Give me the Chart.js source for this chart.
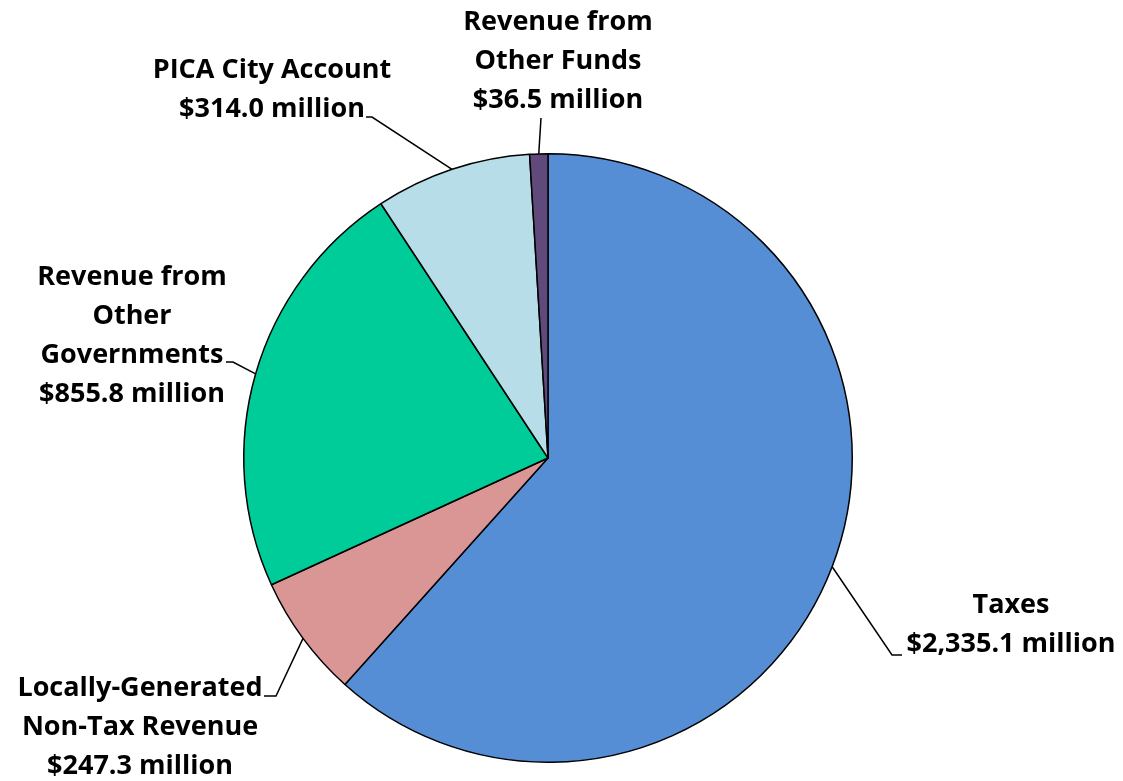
<!DOCTYPE html>
<html><head><meta charset="utf-8">
<script src="https://cdn.jsdelivr.net/npm/chart.js@4/dist/chart.umd.min.js"></script>
<style>html,body{margin:0;padding:0;background:#fff}#wrap{width:1123px;height:781px}</style>
</head><body><div id="wrap"><canvas id="c" width="1123" height="781"></canvas></div>
<script>
const categories = ["Taxes", "Locally-Generated Non-Tax Revenue", "Revenue from Other Governments", "PICA City Account", "Revenue from Other Funds"];
const values = [2335.1, 247.3, 855.8, 314.0, 36.5];
const labelLines = [
  ["Taxes", "$2,335.1 million"],
  ["Locally-Generated", "Non-Tax Revenue", "$247.3 million"],
  ["Revenue from", "Other", "Governments", "$855.8 million"],
  ["PICA City Account", "$314.0 million"],
  ["Revenue from", "Other Funds", "$36.5 million"]
];
const colors = ["#558ED5", "#D99694", "#00CC99", "#B7DDE8", "#604A7B"];

const labelLayout = [
  {x: 1011, y: 605, elbow: [892, 655], end: [902, 655]},
  {x: 140, y: 688, elbow: [276, 696], end: [264, 696]},
  {x: 132, y: 277, elbow: [233, 362], end: [226, 362]},
  {x: 272, y: 70, elbow: [372, 117], end: [366, 117]},
  {x: 558, y: 22, elbow: [541, 118], end: [541, 118]}
];
const lineH = 39;

const labelPlugin = {
  id: 'labels',
  afterDraw(chart) {
    const ctx = chart.ctx;
    const meta = chart.getDatasetMeta(0);
    ctx.save();
    ctx.font = 'bold 27px "Open Sans", sans-serif';
    ctx.fillStyle = '#000';
    ctx.textAlign = 'center';
    ctx.textBaseline = 'middle';
    meta.data.forEach((arc, i) => {
      const L = labelLayout[i];
      const mid = (arc.startAngle + arc.endAngle) / 2;
      const px = arc.x + Math.cos(mid) * arc.outerRadius;
      const py = arc.y + Math.sin(mid) * arc.outerRadius;
      ctx.strokeStyle = '#000';
      ctx.lineWidth = 1.5;
      ctx.beginPath();
      ctx.moveTo(px, py);
      ctx.lineTo(L.elbow[0], L.elbow[1]);
      ctx.lineTo(L.end[0], L.end[1]);
      ctx.stroke();
      labelLines[i].forEach((t, j) => {
        ctx.fillText(t, L.x, L.y + j * lineH);
      });
    });
    ctx.restore();
  }
};

new Chart(document.getElementById('c'), {
  type: 'pie',
  data: {
    labels: categories,
    datasets: [{
      data: values,
      backgroundColor: colors,
      borderColor: '#000',
      borderWidth: 1.5
    }]
  },
  options: {
    responsive: false,
    animation: false,
    layout: {padding: {top: 153, bottom: 18, left: 243, right: 270}},
    plugins: {legend: {display: false}, tooltip: {enabled: false}}
  },
  plugins: [labelPlugin]
});
</script></body></html>
